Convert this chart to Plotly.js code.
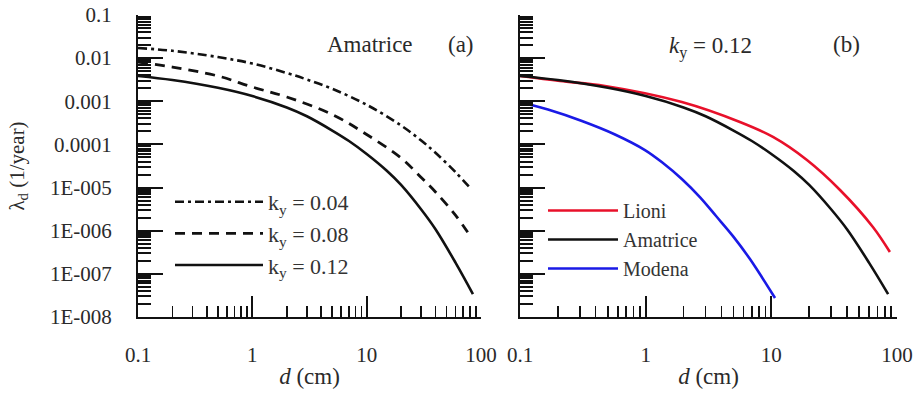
<!DOCTYPE html>
<html>
<head>
<meta charset="utf-8">
<script src="https://cdn.plot.ly/plotly-3.0.1.min.js"></script>
<style>html,body{margin:0;padding:0;background:#fff;}#chart{width:916px;height:396px;}</style>
</head>
<body>
<div id="chart"></div>
<script>
// ---- Data ----
// Panel (a): Amatrice, three k_y values
const d_ky004 = [0.1, 0.2, 0.5, 1, 2, 3, 5, 10, 20, 30, 40, 60, 80.4];
const lam_ky004 = [1.72e-2, 1.48e-2, 1.06e-2, 7.5e-3, 4.53e-3, 3.2e-3, 1.95e-3, 8.3e-4, 2.75e-4, 1.23e-4, 6.4e-5, 2.26e-5, 9.8e-6];

const d_ky008 = [0.1, 0.2, 0.5, 1, 2, 5, 10, 20, 30, 40, 60, 82.6];
const lam_ky008 = [8.1e-3, 6.2e-3, 3.86e-3, 2.14e-3, 1.26e-3, 4.94e-4, 1.70e-4, 4.84e-5, 1.71e-5, 7.9e-6, 2.27e-6, 6.8e-7];

const d_ky012 = [0.1, 0.2, 0.5, 1, 2, 3, 5, 7, 10, 15, 20, 30, 40, 60, 85];
const lam_ky012 = [3.86e-3, 3.11e-3, 2.05e-3, 1.32e-3, 7.2e-4, 4.5e-4, 2.1e-4, 1.2e-4, 6.0e-5, 2.45e-5, 1.15e-5, 3.1e-6, 1.08e-6, 1.8e-7, 3.4e-8];

// Panel (b): k_y = 0.12, three sites
const d_lioni = [0.1, 0.208, 0.475, 1.94, 5.62, 10.3, 19.2, 35.2, 64.3, 87.8];
const lam_lioni = [3.86e-3, 2.95e-3, 2.26e-3, 9.6e-4, 3.31e-4, 1.49e-4, 4.35e-5, 8.8e-6, 1.22e-6, 3.2e-7];

const d_amatrice = d_ky012;
const lam_amatrice = lam_ky012;

const d_modena = [0.1, 0.167, 0.311, 0.570, 0.987, 1.373, 1.94, 2.70, 3.63, 4.95, 6.76, 10.7];
const lam_modena = [9.6e-4, 6.44e-4, 3.49e-4, 1.70e-4, 7.4e-5, 3.71e-5, 1.58e-5, 6.0e-6, 2.19e-6, 7.5e-7, 2.2e-7, 2.75e-8];

// Tick labels
const xTickVals = [0.1, 1, 10, 100];
const xTickText = ['0.1', '1', '10', '100'];
const yTickVals = [0.1, 0.01, 0.001, 0.0001, 1e-5, 1e-6, 1e-7, 1e-8];
const yTickText = ['0.1', '0.01', '0.001', '0.0001', '1E-005', '1E-006', '1E-007', '1E-008'];

// ---- Build ----
const W = 916, H = 396;
const FONT = '"Times New Roman", Tinos, "Liberation Serif", "DejaVu Serif", "Noto Serif", Times, serif';
const TXT = '#2a2a2a';
const px = v => v / W;
const py = v => 1 - v / H;

function minorVals(lo, hi) {
  const out = [];
  for (let e = lo; e < hi; e++) {
    for (let m = 2; m <= 9; m++) out.push(m * Math.pow(10, e));
  }
  return out;
}
const xMinor = minorVals(-1, 2);
const yMinor = minorVals(-8, -1);

const traces = [
  {x: d_ky004, y: lam_ky004, name: 'k<sub>y</sub> = 0.04', xaxis: 'x', yaxis: 'y', legend: 'legend',
   line: {color: '#111', width: 2.6, dash: '9px,4px,3px,4px', shape: 'spline', smoothing: 1}},
  {x: d_ky008, y: lam_ky008, name: 'k<sub>y</sub> = 0.08', xaxis: 'x', yaxis: 'y', legend: 'legend',
   line: {color: '#111', width: 2.8, dash: '10px,7px', shape: 'spline', smoothing: 1}},
  {x: d_ky012, y: lam_ky012, name: 'k<sub>y</sub> = 0.12', xaxis: 'x', yaxis: 'y', legend: 'legend',
   line: {color: '#111', width: 2.6, shape: 'spline', smoothing: 1}},
  {x: d_lioni, y: lam_lioni, name: 'Lioni', xaxis: 'x2', yaxis: 'y2', legend: 'legend2',
   line: {color: '#e8102a', width: 2.6, shape: 'spline', smoothing: 1}},
  {x: d_amatrice, y: lam_amatrice, name: 'Amatrice', xaxis: 'x2', yaxis: 'y2', legend: 'legend2',
   line: {color: '#111', width: 2.6, shape: 'spline', smoothing: 1}},
  {x: d_modena, y: lam_modena, name: 'Modena', xaxis: 'x2', yaxis: 'y2', legend: 'legend2',
   line: {color: '#1a1ae6', width: 2.6, shape: 'spline', smoothing: 1}}
].map(t => Object.assign({type: 'scatter', mode: 'lines', hoverinfo: 'skip'}, t));

function xAxis(domain, anchor) {
  return {
    type: 'log', range: [-1, 2], domain: domain, anchor: anchor,
    showline: true, linecolor: '#111', linewidth: 2,
    showgrid: false, zeroline: false,
    ticks: 'inside', ticklen: 21, tickwidth: 2, tickcolor: '#111',
    tickmode: 'array', tickvals: xTickVals, ticktext: xTickText,
    ticklabelstandoff: 18,
    tickfont: {family: FONT, size: 21, color: TXT},
    minor: {tickmode: 'array', tickvals: xMinor, ticks: 'inside', ticklen: 11, tickwidth: 1.6, tickcolor: '#111', showgrid: false},
    title: {text: '<i>d</i> (cm)', font: {family: FONT, size: 23, color: TXT}, standoff: 2}
  };
}
function yAxis(anchor, showLabels) {
  const a = {
    type: 'log', range: [-8, -1], domain: [py(317), py(15)], anchor: anchor,
    showline: true, linecolor: '#111', linewidth: 2,
    showgrid: false, zeroline: false,
    ticks: 'inside', ticklen: 25, tickwidth: 2, tickcolor: '#111',
    tickmode: 'array', tickvals: yTickVals, ticktext: yTickText,
    showticklabels: showLabels,
    ticklabelstandoff: 20,
    tickfont: {family: FONT, size: 21, color: TXT},
    minor: {tickmode: 'array', tickvals: yMinor, ticks: 'inside', ticklen: 13, tickwidth: 2, tickcolor: '#111', showgrid: false}
  };
  if (showLabels) a.title = {text: 'λ<sub>d</sub> (1/year)', font: {family: FONT, size: 21, color: TXT}, standoff: 20};
  return a;
}

const legendBase = {
  bgcolor: 'rgba(0,0,0,0)', borderwidth: 0,
  xanchor: 'left', yanchor: 'top', traceorder: 'normal'
};

const annFont = {family: FONT, size: 23, color: TXT};
const layout = {
  width: W, height: H,
  margin: {l: 0, r: 0, t: 0, b: 0},
  paper_bgcolor: '#fff', plot_bgcolor: '#fff',
  showlegend: true,
  xaxis: xAxis([px(138), px(481)], 'y'),
  yaxis: yAxis('x', true),
  xaxis2: xAxis([px(520), px(897)], 'y2'),
  yaxis2: yAxis('x2', false),
  legend: Object.assign({}, legendBase, {x: px(170), y: py(181), itemwidth: 88,
    font: {family: FONT, size: 22, color: '#333'}}),
  legend2: Object.assign({}, legendBase, {x: px(543), y: py(191), itemwidth: 70,
    font: {family: FONT, size: 20, color: '#333'}}),
  annotations: [
    {text: 'Amatrice', x: px(370), y: py(30), xref: 'paper', yref: 'paper', showarrow: false, font: annFont},
    {text: '(a)', x: px(461), y: py(30), xref: 'paper', yref: 'paper', showarrow: false, font: annFont},
    {text: '<i>k</i><sub>y</sub> = 0.12', x: px(754), y: py(31), xref: 'paper', yref: 'paper', showarrow: false, font: annFont},
    {text: '(b)', x: px(862), y: py(30), xref: 'paper', yref: 'paper', showarrow: false, font: annFont}
  ]
};

Plotly.newPlot('chart', traces, layout, {staticPlot: true, displayModeBar: false});
</script>
</body>
</html>
